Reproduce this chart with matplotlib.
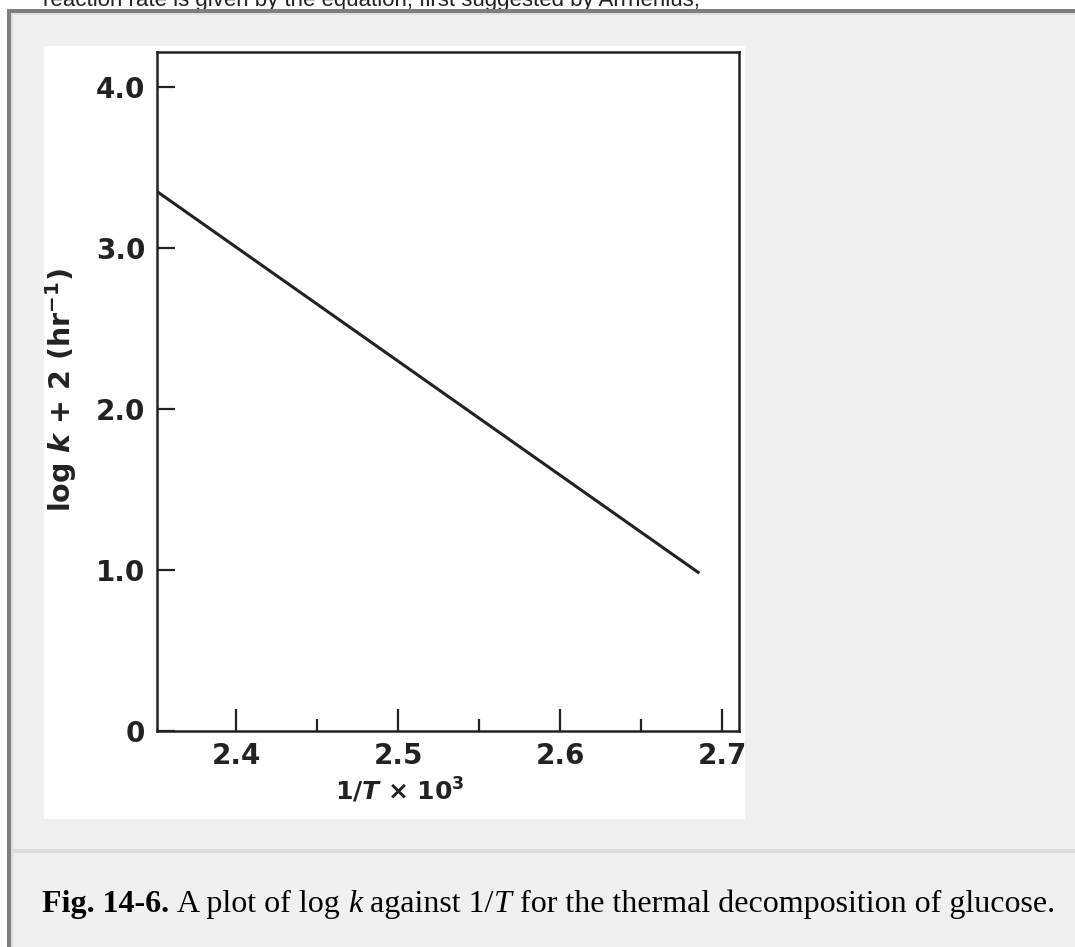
import matplotlib.pyplot as plt
from matplotlib.patches import Rectangle

# ---------------------------------------------------------
# data
# ---------------------------------------------------------
inv_T = [2.351, 2.686]      # 1/T x 10^3
log_k2 = [3.35, 0.98]       # log k + 2 (hr^-1)

x_major = [2.4, 2.5, 2.6, 2.7]
x_minor = [2.45, 2.55, 2.65]
y_ticks = [0, 1, 2, 3, 4]
y_labels = ["0", "1.0", "2.0", "3.0", "4.0"]

header = "reaction rate is given by the equation, first suggested by Arrhenius,"
# caption runs: (text, weight, style)
caption = [
    ("Fig. 14-6.", "bold", "normal"),
    ("A plot of log", "normal", "normal"),
    ("k", "normal", "italic"),
    ("against 1/", "normal", "normal"),
    ("T", "normal", "italic"),
    ("for the thermal decomposition of glucose.", "normal", "normal"),
]
# which runs are followed by a space
caption_gap = [True, True, True, False, True, False]

# ---------------------------------------------------------
# fonts
# ---------------------------------------------------------
plt.rcParams["font.family"] = ["DejaVu Sans"]
plt.rcParams["mathtext.fontset"] = "custom"
plt.rcParams["mathtext.rm"] = "DejaVu Sans:bold"
plt.rcParams["mathtext.it"] = "DejaVu Sans:bold:italic"
plt.rcParams["mathtext.bf"] = "DejaVu Sans:bold"

W, H = 1075, 947
fig = plt.figure(figsize=(W / 100, H / 100), dpi=100, facecolor="white")

# page background, drawn in pixel coordinates (origin top left)
bg = fig.add_axes([0, 0, 1, 1], zorder=0)
bg.set_xlim(0, W)
bg.set_ylim(H, 0)
bg.axis("off")

bg.add_patch(Rectangle((7, 9), W, H, facecolor="#f0f0f0", edgecolor="none"))
bg.add_patch(Rectangle((7, 9), 4, H, facecolor="#7f7f7f", edgecolor="none"))
bg.add_patch(Rectangle((7, 9), W, 4, facecolor="#7f7f7f", edgecolor="none"))
bg.add_patch(Rectangle((11, 13), 2, H, facecolor="#dedede", edgecolor="none"))
bg.add_patch(Rectangle((11, 13), W, 2, facecolor="#dedede", edgecolor="none"))
bg.add_patch(Rectangle((44, 46), 701, 773, facecolor="white", edgecolor="none"))
bg.add_patch(Rectangle((11, 849), W, 4, facecolor="#dcdcdc", edgecolor="none"))

# the line of page text above the panel, cut by the top edge as in the screenshot
bg.text(43, 6, header, fontsize=16, color="#222222", family="Liberation Sans",
        va="baseline", ha="left", zorder=0)

# caption, one run after the other on a common baseline
r = fig.canvas.get_renderer()
cx = 42
space = 0.25 * 23 * 100 / 72
for (txt, wt, st), gap in zip(caption, caption_gap):
    t = bg.text(cx, 912, txt, fontsize=23, fontweight=wt, fontstyle=st,
                family="Liberation Serif", va="baseline", ha="left", color="black")
    cx = t.get_window_extent(r).x1 + (space if gap else 0.5)

# ---------------------------------------------------------
# the chart itself
# ---------------------------------------------------------
L, R, T, B = 157, 739, 52, 731
ax = fig.add_axes([L / W, (H - B) / H, (R - L) / W, (B - T) / H], zorder=1)
ax.set_facecolor("white")

ink = "#222222"
ax.plot(inv_T, log_k2, color=ink, lw=2.2, solid_capstyle="butt")

ax.set_xlim(2.3509, 2.7105)
ax.set_ylim(0, 4.217)

ax.set_xticks(x_major)
ax.set_xticklabels([f"{v:.1f}" for v in x_major], fontweight="bold")
ax.set_xticks(x_minor, minor=True)
ax.set_yticks(y_ticks)
ax.set_yticklabels(y_labels, fontweight="bold")

ax.tick_params(axis="x", which="major", direction="in", length=16, width=1.6,
               color=ink, labelsize=20, pad=8, labelcolor=ink)
ax.tick_params(axis="x", which="minor", direction="in", length=9, width=1.6,
               color=ink)
ax.tick_params(axis="y", direction="in", length=13, width=1.6, color=ink,
               labelsize=20, pad=8.5, labelcolor=ink)

for s in ax.spines.values():
    s.set_linewidth(1.8)
    s.set_color(ink)

ax.set_xlabel("1/$T$ $\\times$ 10$^3$", fontsize=18, fontweight="bold",
              color=ink, va="center")
ax.xaxis.set_label_coords((400 - L) / (R - L), -(790 - B) / (B - T))
ax.set_ylabel("log $k$ + 2 (hr$^{-1}$)", fontsize=20.5, fontweight="bold",
              color=ink, va="center")
ax.yaxis.set_label_coords((61 - L) / (R - L), (B - 390) / (B - T))

fig.savefig("out.png", dpi=100, facecolor=fig.get_facecolor())
